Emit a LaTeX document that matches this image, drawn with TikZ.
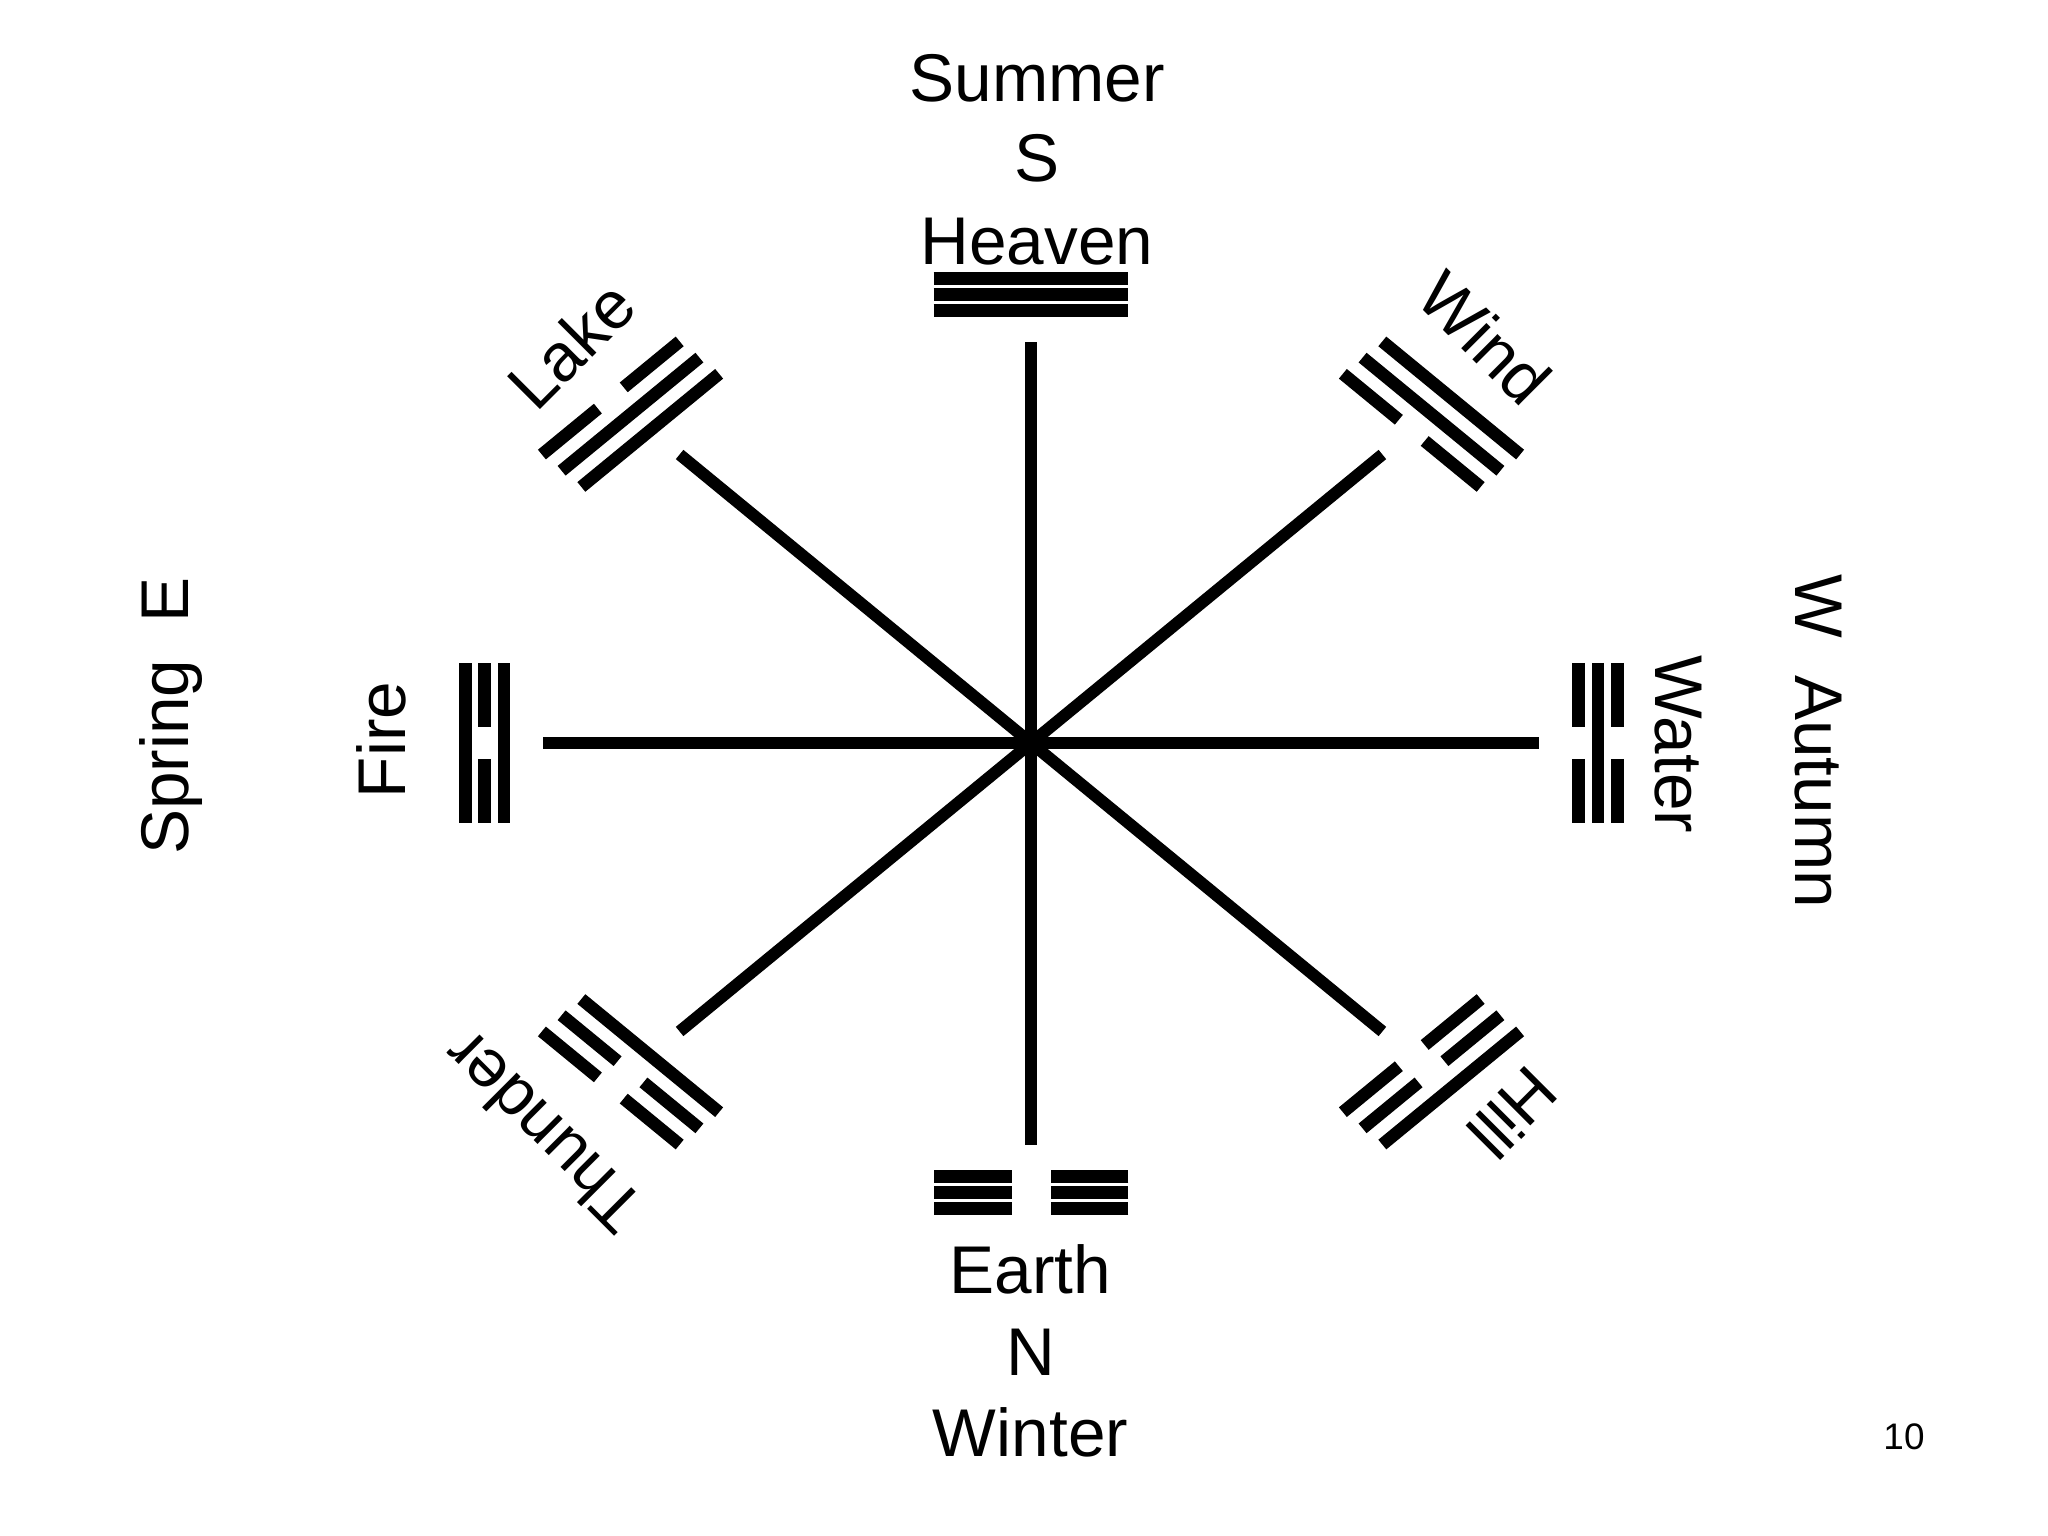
\documentclass[tikz,border=0pt]{standalone}
\usepackage{fontspec}
\setmainfont{Liberation Sans}
\newcommand{\trbar}[3]{%
  \ifnum#2=1
    \draw[barline] (-80,{#1}) -- (80,{#1});
  \else
    \draw[barline] (-80,{#1}) -- (-#3,{#1}) (#3,{#1}) -- (80,{#1});
  \fi}
% angle, middle distance, pitch, inner, middle, outer, half gap
\newcommand{\trig}[7]{%
  \begin{scope}[shift={(1031,793)},xscale=1.218]
  \begin{scope}[rotate=#1-90]
    \trbar{#2-#3}{#4}{#7}
    \trbar{#2}{#5}{#7}
    \trbar{#2+#3}{#6}{#7}
  \end{scope}
  \end{scope}}
\begin{document}
\begin{tikzpicture}[x=0.01cm,y=0.01cm,
  spoke/.style={line width=3.41pt},
  barline/.style={line width=3.56pt},
  lbl/.style={font=\fontsize{19.2}{23}\selectfont, inner sep=0pt},
  small/.style={font=\fontsize{10.5}{12}\selectfont, inner sep=0pt}]
\fill[white] (0,0) rectangle (2048,1536);
\path[use as bounding box] (0,0) rectangle (2048,1536);

% spokes
\begin{scope}[shift={(1031,793)},xscale=1.218]
  \coordinate (c) at (0,0);
  \coordinate (pN) at (90:401);
  \coordinate (pS) at (270:402);
  \coordinate (pW) at (180:401);
  \coordinate (pE) at (0:417);
  \coordinate (pNW) at (135:408);
  \coordinate (pNE) at (45:408);
  \coordinate (pSW) at (225:408);
  \coordinate (pSE) at (315:408);
\end{scope}
\foreach \p in {pN,pS,pW,pE,pNW,pNE,pSW,pSE}
  \draw[spoke] (c) -- (\p);

% trigrams
\trig{90}{448.5}{16}{1}{1}{1}{16}   % Heaven
\trig{270}{449.3}{16}{0}{0}{0}{16}  % Earth
\trig{180}{448.5}{16}{1}{0}{1}{16}  % Fire
\trig{0}{465.4}{16}{0}{1}{0}{16}    % Water
\trig{135}{465}{22.9}{1}{1}{0}{15}  % Lake
\trig{45}{465}{22.9}{0}{1}{1}{15}   % Wind
\trig{225}{465}{22.9}{1}{0}{0}{15}  % Thunder
\trig{315}{465}{22.9}{0}{0}{1}{15}  % Hill

% labels
\node[lbl, anchor=base] (tSummer) at (1037,1434.3) {Summer};
\node[lbl, anchor=base] (tS) at (1037,1354.3) {S};
\node[lbl, anchor=base] (tHeaven) at (1037,1271) {Heaven};
\node[lbl, anchor=base] (tEarth) at (1030.5,242.5) {Earth};
\node[lbl, anchor=base] (tN) at (1030.5,160.3) {N};
\node[lbl, anchor=base] (tWinter) at (1030.5,79.3) {Winter};
\node[lbl, rotate=90] (tSpring) at (171,820) {Spring\ \ E};
\node[lbl, rotate=90] (tFire) at (381,796) {Fire};
\node[lbl, rotate=-90] (tWater) at (1678,791.5) {Water};
\node[lbl, rotate=-90] (tAutumn) at (1818,795) {W\ \ Autumn};
\node[lbl, rotate=45] (tLake) at (571,1191) {Lake};
\node[lbl, rotate=-45] (tWind) at (1485,1198) {Wind};
\node[lbl, rotate=135] (tThunder) at (543,403) {Thunder};
\node[lbl, rotate=225] (tHill) at (1513,423) {Hill};
\node[small] (tPage) at (1904,99) {10};
\end{tikzpicture}
\end{document}
